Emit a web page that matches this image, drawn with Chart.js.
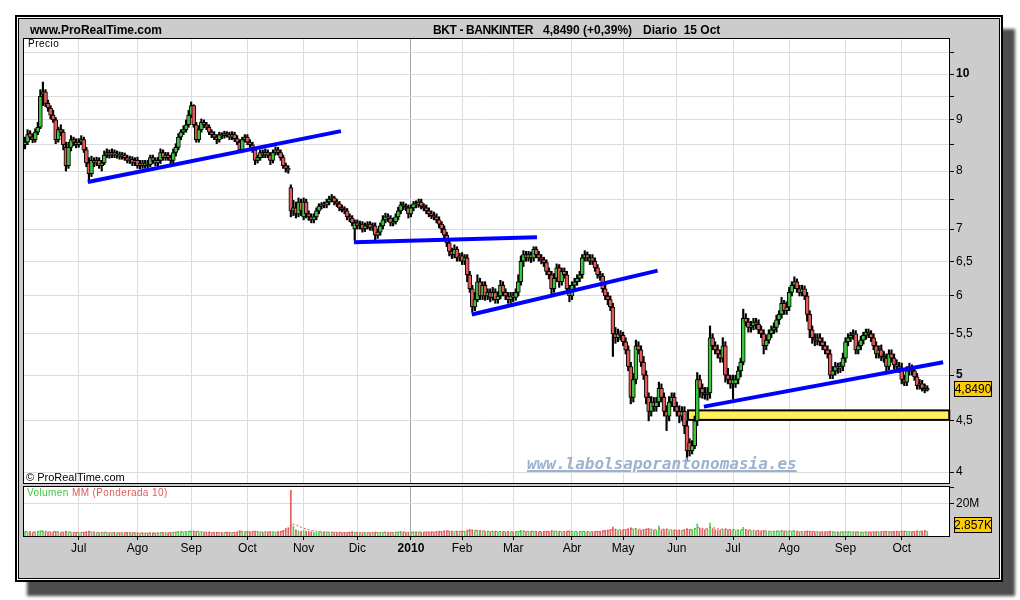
<!DOCTYPE html>
<html>
<head>
<meta charset="utf-8">
<script src="https://cdn.jsdelivr.net/npm/chart.js@4.4.0/dist/chart.umd.min.js"></script>
<style>
  body { margin: 0; background: #fff; width: 1020px; height: 600px; overflow: hidden; position: relative; font-family: 'Liberation Sans', Arial, sans-serif; }
  #frame { position: absolute; left: 15px; top: 15px; width: 988px; height: 567px; box-sizing: border-box; background: #cccccc; border: 2px solid #000;
           box-shadow: inset 0 0 0 1px #fff, inset 0 0 0 2px #000, 12px 14px 3px #4d4d4d; }
  canvas { position: absolute; left: 0; top: 0; width: 1020px; height: 600px; }
  .txt { position: absolute; white-space: pre; line-height: 14px; color: #000; }
</style>
</head>
<body>
<div id="frame"></div>
<canvas id="priceChart" width="1020" height="600"></canvas>
<canvas id="volChart" width="1020" height="600"></canvas>

<div class="txt" style="left:30px;top:23px;font-size:12px;font-weight:bold">www.ProRealTime.com</div>
<div class="txt" style="left:433px;top:23px;font-size:12px;font-weight:bold;letter-spacing:-0.4px">BKT - BANKINTER</div>
<div class="txt" style="left:543px;top:23px;font-size:12px;font-weight:bold">4,8490 (+0,39%)</div>
<div class="txt" style="left:643px;top:23px;font-size:12px;font-weight:bold">Diario  15 Oct</div>
<div class="txt" style="left:28px;top:37px;font-size:10px;letter-spacing:0.5px">Precio</div>
<div class="txt" style="left:26px;top:470px;font-size:11px">© ProRealTime.com</div>
<div class="txt" style="left:27px;top:486px;font-size:10px;letter-spacing:0.4px"><span style="color:#3fc43f">Volumen</span> <span style="color:#e05a5a">MM (Ponderada 10)</span></div>
<div class="txt" style="left:527px;top:455px;line-height:18px;font-family:'DejaVu Sans Mono',monospace;font-size:16px;font-weight:bold;font-style:oblique;color:#9cb2cf;text-decoration:underline;text-decoration-thickness:2px">www.labolsaporantonomasia.es</div>

<script>
// Daily OHLC, Bankinter (BKT), from early June 2009 to 15 Oct 2010
const opens = [
  8.5,8.55,8.72,8.65,8.6,8.75,8.85,9.55,9.6,9.35,
  9.25,9.1,9.0,8.6,8.8,8.75,8.45,8.1,8.45,8.6,
  8.55,8.5,8.55,8.6,8.4,8.15,7.95,8.2,8.15,8.2,
  8.1,8.15,8.3,8.35,8.3,8.35,8.3,8.32,8.28,8.3,
  8.25,8.2,8.22,8.15,8.2,8.1,8.15,8.1,8.15,8.12,
  8.25,8.2,8.15,8.2,8.35,8.25,8.3,8.25,8.2,8.35,
  8.45,8.65,8.75,8.8,8.9,9.1,9.3,8.9,8.6,8.8,
  8.95,8.9,8.85,8.75,8.7,8.65,8.6,8.7,8.68,8.72,
  8.7,8.65,8.7,8.62,8.55,8.4,8.6,8.65,8.55,8.5,
  8.4,8.2,8.25,8.35,8.3,8.35,8.3,8.2,8.35,8.4,
  8.35,8.25,8.1,8.05,7.7,7.3,7.35,7.25,7.45,7.2,
  7.45,7.25,7.2,7.15,7.2,7.3,7.38,7.42,7.4,7.45,
  7.5,7.52,7.45,7.42,7.35,7.32,7.3,7.2,7.18,7.0,
  7.1,7.05,7.08,7.0,7.05,7.08,7.02,7.05,6.9,6.95,
  7.05,7.15,7.2,7.18,7.1,7.12,7.2,7.3,7.4,7.38,
  7.35,7.25,7.35,7.42,7.4,7.45,7.38,7.35,7.3,7.25,
  7.22,7.2,7.15,7.08,7.0,6.9,6.78,6.65,6.6,6.68,
  6.55,6.58,6.5,6.55,6.3,6.1,5.85,5.95,6.2,6.0,
  6.15,6.0,6.05,5.98,6.05,5.95,6.0,6.15,6.05,6.0,
  5.95,6.0,5.98,6.05,6.2,6.5,6.6,6.55,6.6,6.55,
  6.68,6.6,6.55,6.52,6.48,6.35,6.3,6.1,6.25,6.4,
  6.2,6.35,6.3,6.1,6.0,6.15,6.2,6.25,6.3,6.55,
  6.6,6.5,6.55,6.5,6.4,6.3,6.28,6.1,6.0,5.95,
  5.85,5.5,5.45,5.5,5.48,5.4,5.3,5.1,4.75,4.95,
  5.35,5.3,5.15,5.0,4.75,4.6,4.7,4.65,4.7,4.85,
  4.75,4.6,4.55,4.7,4.75,4.65,4.6,4.55,4.6,4.45,
  4.28,4.2,4.25,4.5,4.95,4.85,4.8,4.78,4.8,5.45,
  5.35,5.3,5.25,5.2,5.35,5.0,4.95,4.9,4.9,4.95,
  5.05,5.15,5.7,5.65,5.58,5.6,5.65,5.62,5.55,5.5,
  5.35,5.42,5.5,5.55,5.58,5.68,5.75,5.9,5.8,5.85,
  6.05,6.15,6.2,6.1,6.05,6.1,6.0,5.75,5.55,5.45,
  5.42,5.45,5.4,5.35,5.3,5.25,5.0,5.05,5.1,5.08,
  5.1,5.2,5.4,5.45,5.48,5.5,5.3,5.35,5.42,5.48,
  5.52,5.5,5.45,5.35,5.25,5.3,5.22,5.2,5.1,5.25,
  5.2,5.12,5.1,5.08,4.95,4.92,5.05,5.08,5.05,4.98,
  4.88,4.9,4.85,4.83
];
const highs = [
  8.65,8.8,8.78,8.72,8.82,8.95,9.65,9.82,9.65,9.42,
  9.3,9.2,9.05,8.85,8.9,8.8,8.55,8.55,8.68,8.65,
  8.62,8.62,8.68,8.65,8.45,8.25,8.28,8.25,8.26,8.25,
  8.2,8.38,8.42,8.4,8.42,8.4,8.38,8.36,8.35,8.34,
  8.3,8.28,8.27,8.25,8.26,8.2,8.2,8.2,8.2,8.3,
  8.3,8.25,8.26,8.42,8.4,8.35,8.35,8.3,8.42,8.52,
  8.72,8.8,8.88,9.0,9.2,9.38,9.32,8.95,8.88,9.02,
  9.0,8.95,8.9,8.8,8.76,8.7,8.75,8.74,8.77,8.76,
  8.75,8.76,8.75,8.68,8.6,8.65,8.7,8.7,8.6,8.55,
  8.45,8.3,8.4,8.4,8.42,8.4,8.35,8.4,8.46,8.45,
  8.4,8.3,8.15,8.1,7.75,7.48,7.45,7.52,7.5,7.52,
  7.5,7.3,7.25,7.25,7.35,7.42,7.44,7.45,7.5,7.55,
  7.58,7.55,7.5,7.46,7.4,7.37,7.34,7.25,7.22,7.15,
  7.15,7.13,7.12,7.1,7.12,7.12,7.1,7.1,7.0,7.1,
  7.22,7.26,7.25,7.22,7.18,7.25,7.36,7.45,7.45,7.42,
  7.4,7.4,7.46,7.47,7.5,7.5,7.42,7.4,7.35,7.3,
  7.28,7.25,7.2,7.12,7.05,6.95,6.82,6.7,6.75,6.72,
  6.62,6.63,6.6,6.6,6.35,6.15,6.05,6.3,6.25,6.2,
  6.2,6.1,6.1,6.12,6.1,6.06,6.22,6.2,6.1,6.05,
  6.05,6.05,6.1,6.3,6.58,6.66,6.65,6.65,6.64,6.72,
  6.72,6.65,6.6,6.56,6.52,6.4,6.35,6.32,6.46,6.45,
  6.4,6.4,6.35,6.15,6.2,6.25,6.3,6.35,6.6,6.66,
  6.64,6.6,6.6,6.55,6.45,6.35,6.32,6.15,6.05,6.0,
  5.9,5.58,5.56,5.54,5.52,5.45,5.35,5.15,5.02,5.42,
  5.4,5.35,5.22,5.05,4.8,4.76,4.75,4.75,4.92,4.9,
  4.8,4.66,4.76,4.8,4.8,4.7,4.66,4.65,4.65,4.5,
  4.32,4.3,4.55,5.03,5.0,4.9,4.86,4.86,5.6,5.5,
  5.4,5.36,5.3,5.45,5.4,5.08,5.0,5.0,5.0,5.1,
  5.2,5.82,5.76,5.7,5.66,5.7,5.7,5.68,5.6,5.55,
  5.48,5.55,5.6,5.64,5.74,5.8,5.98,5.94,5.92,6.12,
  6.2,6.27,6.24,6.15,6.15,6.14,6.05,5.8,5.6,5.5,
  5.5,5.5,5.45,5.4,5.35,5.3,5.1,5.15,5.14,5.15,
  5.26,5.45,5.5,5.52,5.55,5.54,5.4,5.47,5.52,5.56,
  5.56,5.54,5.5,5.4,5.35,5.36,5.28,5.25,5.3,5.3,
  5.25,5.18,5.15,5.14,5.0,5.1,5.14,5.12,5.1,5.02,
  4.95,4.94,4.9,4.88
];
const lows = [
  8.42,8.5,8.6,8.54,8.55,8.7,8.82,9.3,9.28,9.18,
  9.02,8.95,8.52,8.55,8.68,8.4,8.0,8.05,8.38,8.48,
  8.44,8.45,8.5,8.35,8.08,7.8,7.9,8.08,8.1,8.05,
  8.0,8.12,8.25,8.24,8.25,8.25,8.24,8.22,8.22,8.2,
  8.15,8.14,8.1,8.1,8.05,8.04,8.05,8.05,8.06,8.08,
  8.14,8.1,8.1,8.14,8.2,8.2,8.2,8.14,8.15,8.28,
  8.4,8.6,8.7,8.75,8.85,9.05,8.85,8.55,8.55,8.75,
  8.84,8.8,8.7,8.64,8.6,8.52,8.55,8.62,8.63,8.65,
  8.6,8.6,8.56,8.5,8.35,8.35,8.55,8.5,8.45,8.35,
  8.12,8.15,8.2,8.25,8.25,8.25,8.12,8.15,8.3,8.3,
  8.2,8.05,7.98,7.96,7.2,7.22,7.18,7.2,7.22,7.15,
  7.18,7.14,7.1,7.1,7.15,7.25,7.33,7.35,7.35,7.4,
  7.45,7.4,7.37,7.3,7.28,7.25,7.15,7.12,7.05,6.82,
  7.0,7.0,6.95,6.96,7.0,6.98,6.97,6.82,6.85,6.9,
  7.0,7.1,7.12,7.05,7.05,7.08,7.15,7.25,7.32,7.3,
  7.18,7.2,7.3,7.35,7.36,7.33,7.3,7.25,7.2,7.17,
  7.15,7.1,7.02,6.94,6.82,6.72,6.58,6.54,6.55,6.5,
  6.5,6.45,6.45,6.2,6.05,5.78,5.8,5.92,5.95,5.95,
  5.94,5.95,5.92,5.94,5.9,5.9,5.96,6.0,5.95,5.9,
  5.9,5.92,5.94,6.0,6.15,6.42,6.5,6.5,6.48,6.5,
  6.55,6.5,6.46,6.42,6.3,6.24,6.0,6.05,6.2,6.12,
  6.15,6.25,6.05,5.92,5.95,6.1,6.15,6.2,6.25,6.5,
  6.5,6.45,6.45,6.35,6.25,6.22,6.05,5.95,5.88,5.8,
  5.22,5.38,5.4,5.42,5.35,5.25,5.05,4.68,4.7,4.9,
  5.25,5.1,4.95,4.68,4.5,4.55,4.6,4.6,4.65,4.7,
  4.55,4.4,4.5,4.65,4.6,4.55,4.48,4.5,4.37,4.1,
  4.15,4.17,4.22,4.45,4.75,4.74,4.73,4.72,4.74,5.3,
  5.25,5.2,5.15,5.15,4.92,4.9,4.85,4.73,4.86,4.9,
  4.98,5.12,5.6,5.52,5.52,5.55,5.56,5.5,5.45,5.25,
  5.3,5.38,5.45,5.5,5.52,5.62,5.7,5.75,5.75,5.8,
  6.0,6.1,6.05,6.0,6.0,5.95,5.66,5.45,5.38,5.35,
  5.36,5.35,5.3,5.25,5.2,4.96,4.96,5.0,5.02,5.03,
  5.05,5.15,5.35,5.4,5.43,5.25,5.25,5.3,5.37,5.43,
  5.45,5.4,5.3,5.2,5.2,5.17,5.15,5.05,5.06,5.15,
  5.07,5.05,5.03,4.9,4.88,4.88,5.0,5.0,4.94,4.84,
  4.84,4.82,4.8,4.82
];
const closes = [
  8.55,8.7,8.65,8.6,8.75,8.85,9.5,9.6,9.35,9.25,
  9.1,9.0,8.6,8.8,8.75,8.5,8.1,8.45,8.6,8.55,
  8.5,8.55,8.6,8.4,8.15,7.95,8.2,8.15,8.2,8.1,
  8.15,8.3,8.35,8.3,8.35,8.3,8.32,8.28,8.3,8.25,
  8.2,8.22,8.15,8.2,8.1,8.15,8.1,8.15,8.12,8.25,
  8.2,8.15,8.2,8.35,8.25,8.3,8.25,8.2,8.35,8.45,
  8.65,8.75,8.8,8.9,9.1,9.3,8.9,8.6,8.8,8.95,
  8.9,8.85,8.75,8.7,8.65,8.6,8.7,8.68,8.72,8.7,
  8.65,8.7,8.62,8.55,8.4,8.6,8.65,8.55,8.5,8.4,
  8.2,8.25,8.35,8.3,8.35,8.3,8.2,8.35,8.4,8.35,
  8.25,8.1,8.05,8.02,7.3,7.35,7.25,7.45,7.3,7.45,
  7.25,7.2,7.15,7.2,7.3,7.38,7.4,7.4,7.45,7.5,
  7.52,7.45,7.42,7.35,7.32,7.3,7.2,7.18,7.1,7.1,
  7.05,7.08,7.0,7.05,7.08,7.02,7.05,6.9,6.95,7.05,
  7.15,7.2,7.18,7.1,7.12,7.2,7.3,7.4,7.38,7.35,
  7.25,7.35,7.42,7.4,7.45,7.38,7.35,7.3,7.25,7.22,
  7.2,7.15,7.08,7.0,6.9,6.78,6.65,6.6,6.68,6.55,
  6.58,6.5,6.55,6.3,6.1,5.85,5.95,6.2,6.0,6.15,
  6.0,6.05,5.98,6.05,5.95,6.0,6.15,6.05,6.0,5.95,
  6.0,5.98,6.05,6.2,6.5,6.6,6.55,6.6,6.55,6.68,
  6.6,6.55,6.52,6.48,6.35,6.3,6.1,6.25,6.4,6.2,
  6.35,6.3,6.1,6.0,6.15,6.2,6.25,6.3,6.55,6.6,
  6.55,6.55,6.5,6.4,6.3,6.28,6.1,6.0,5.95,5.85,
  5.5,5.45,5.5,5.48,5.4,5.3,5.1,4.75,4.95,5.35,
  5.3,5.15,5.0,4.75,4.6,4.7,4.65,4.7,4.85,4.75,
  4.6,4.55,4.7,4.75,4.65,4.6,4.55,4.6,4.45,4.2,
  4.2,4.25,4.5,4.95,4.85,4.8,4.78,4.8,5.45,5.35,
  5.3,5.25,5.2,5.35,5.0,4.95,4.9,4.95,4.95,5.05,
  5.15,5.7,5.65,5.58,5.6,5.65,5.62,5.55,5.5,5.35,
  5.42,5.5,5.55,5.58,5.68,5.75,5.9,5.8,5.85,6.05,
  6.15,6.2,6.1,6.05,6.1,6.0,5.75,5.55,5.45,5.42,
  5.45,5.4,5.35,5.3,5.25,5.0,5.05,5.1,5.08,5.1,
  5.2,5.4,5.45,5.48,5.5,5.3,5.35,5.42,5.48,5.52,
  5.5,5.45,5.35,5.25,5.3,5.22,5.2,5.1,5.25,5.2,
  5.12,5.1,5.08,4.95,4.92,5.05,5.08,5.05,4.98,4.88,
  4.9,4.85,4.83,4.849
];
// volume in millions of shares, and its weighted 10-day average as drawn
const volumes = [
  2.8,2.4,2.6,2.2,2.5,3.0,3.4,3.2,2.6,2.4,
  2.2,2.5,2.9,2.3,2.1,2.4,3.0,2.6,2.2,2.0,
  2.3,2.1,2.0,2.4,2.6,3.1,2.5,2.2,2.0,1.9,
  2.2,2.4,2.1,1.8,2.0,2.2,1.9,2.1,1.8,2.0,
  2.3,2.0,1.9,2.2,1.8,1.7,2.0,1.9,1.8,2.1,
  1.9,1.8,2.0,2.3,2.1,1.9,2.0,2.2,2.4,2.6,
  2.9,2.7,2.5,2.8,3.0,3.2,3.0,2.8,2.5,2.4,
  2.3,2.2,2.4,2.1,2.0,2.3,2.2,2.0,2.1,2.4,
  2.2,2.0,2.3,2.6,3.4,2.8,2.4,2.9,2.5,2.7,
  3.0,2.6,2.4,2.3,2.6,2.4,2.8,2.5,2.3,2.6,
  3.0,3.6,4.8,5.2,28.5,6.2,3.8,3.2,2.9,3.5,
  3.0,2.8,2.6,2.4,2.2,2.6,2.4,2.3,2.5,2.2,
  2.4,2.2,2.1,2.3,2.0,2.2,2.1,2.4,2.6,2.3,
  2.2,2.0,1.9,2.1,2.2,2.0,2.3,2.5,2.2,2.0,
  2.3,2.6,2.2,2.1,2.0,2.4,2.6,2.9,2.4,2.2,
  2.1,2.3,2.6,2.4,2.5,2.2,2.3,2.6,2.4,2.7,
  2.5,2.8,3.0,2.7,3.2,3.4,3.0,2.8,2.6,3.1,
  2.8,3.0,2.7,3.6,4.2,3.8,3.4,3.6,3.0,3.2,
  2.8,3.0,2.7,2.9,3.1,2.6,3.0,2.8,2.5,2.7,
  2.6,2.4,2.8,3.0,3.5,3.2,2.8,2.6,2.9,3.1,
  2.7,2.5,2.6,2.8,3.0,2.7,3.4,3.0,2.8,2.9,
  2.6,2.5,3.0,3.2,2.8,2.6,2.5,2.7,3.0,2.8,
  2.6,2.5,2.7,2.8,3.0,2.9,3.4,3.6,3.8,4.0,
  5.6,4.2,3.6,3.4,3.8,4.0,4.6,5.2,4.4,4.8,
  3.8,3.6,4.0,4.4,4.8,4.0,3.6,3.4,6.2,3.8,
  4.0,4.4,3.6,3.4,3.8,3.5,3.6,3.4,4.0,4.6,
  4.2,3.8,4.8,7.5,4.8,4.2,4.0,4.4,8.0,4.6,
  4.0,3.6,3.8,4.2,4.4,3.8,3.6,4.0,3.4,3.6,
  3.8,5.4,4.0,3.6,3.4,3.2,3.0,3.3,2.9,3.4,
  3.0,2.8,2.7,2.9,3.2,3.0,3.6,3.1,2.8,3.2,
  3.0,3.3,2.8,2.6,2.5,2.7,3.2,3.0,2.8,2.6,
  2.5,2.4,2.6,2.5,2.7,3.0,2.6,2.4,2.3,2.5,
  2.6,2.8,2.7,2.5,2.4,2.6,2.5,2.3,2.4,2.6,
  2.5,2.4,2.6,2.8,2.5,2.6,2.8,3.0,2.6,2.7,
  2.8,3.0,2.6,3.2,3.0,2.7,2.5,2.6,2.8,3.2,
  2.9,3.0,3.4,2.857
];
const volumeAvg = [
  2.8,2.6,2.6,2.5,2.5,2.6,2.9,3.0,2.9,2.8,
  2.6,2.6,2.7,2.6,2.4,2.4,2.6,2.6,2.5,2.3,
  2.3,2.2,2.2,2.2,2.4,2.6,2.6,2.5,2.3,2.2,
  2.2,2.3,2.2,2.1,2.1,2.1,2.0,2.0,2.0,2.0,
  2.1,2.1,2.0,2.1,2.0,1.9,1.9,1.9,1.9,1.9,
  1.9,1.9,1.9,2.0,2.1,2.0,2.0,2.1,2.2,2.3,
  2.5,2.6,2.6,2.7,2.8,2.9,3.0,2.9,2.8,2.7,
  2.6,2.4,2.4,2.3,2.2,2.2,2.2,2.1,2.1,2.2,
  2.2,2.2,2.2,2.3,2.6,2.7,2.6,2.7,2.6,2.7,
  2.8,2.7,2.6,2.5,2.5,2.5,2.6,2.6,2.5,2.5,
  2.6,2.9,3.4,3.9,7.4,7.4,6.9,6.2,5.5,4.9,
  4.3,3.9,3.5,3.2,2.9,2.8,2.6,2.5,2.5,2.4,
  2.4,2.3,2.3,2.3,2.2,2.2,2.2,2.2,2.3,2.3,
  2.2,2.2,2.1,2.1,2.1,2.1,2.1,2.2,2.2,2.2,
  2.2,2.3,2.3,2.2,2.2,2.2,2.3,2.5,2.5,2.4,
  2.3,2.3,2.4,2.4,2.4,2.4,2.4,2.4,2.4,2.5,
  2.5,2.6,2.7,2.7,2.9,3.0,3.0,3.0,2.9,2.9,
  2.9,2.9,2.8,3.0,3.4,3.6,3.5,3.5,3.3,3.3,
  3.1,3.0,2.9,2.9,2.9,2.8,2.8,2.8,2.7,2.7,
  2.6,2.6,2.6,2.7,2.9,3.0,3.0,2.9,2.9,2.9,
  2.9,2.8,2.7,2.7,2.8,2.8,3.0,3.0,2.9,2.9,
  2.8,2.7,2.8,2.9,2.9,2.8,2.7,2.7,2.8,2.8,
  2.7,2.7,2.6,2.7,2.8,2.8,3.0,3.2,3.4,3.6,
  4.1,4.2,4.0,3.9,3.8,3.9,4.1,4.4,4.4,4.5,
  4.3,4.1,4.0,4.1,4.3,4.2,4.0,3.8,4.5,4.3,
  4.2,4.2,4.0,3.8,3.8,3.7,3.6,3.5,3.7,3.9,
  4.0,3.9,4.2,5.2,5.1,4.8,4.6,4.5,5.5,5.2,
  4.9,4.5,4.3,4.3,4.3,4.2,4.0,4.0,3.8,3.7,
  3.7,4.2,4.1,3.9,3.7,3.6,3.4,3.4,3.2,3.3,
  3.2,3.1,2.9,2.9,3.0,3.0,3.2,3.1,3.0,3.1,
  3.0,3.1,3.0,2.9,2.7,2.7,2.9,2.9,2.9,2.8,
  2.7,2.6,2.6,2.6,2.6,2.7,2.6,2.6,2.5,2.5,
  2.5,2.6,2.6,2.6,2.5,2.5,2.5,2.4,2.4,2.5,
  2.5,2.5,2.5,2.6,2.6,2.6,2.7,2.8,2.7,2.7,
  2.7,2.8,2.7,2.9,2.9,2.9,2.8,2.7,2.7,2.9,
  2.9,2.9,3.1,3.0
];

// first trading day of each month (index into the daily arrays) and its label
const monthStarts = [21, 44, 65, 87, 109, 130, 151, 171, 191, 214, 234, 255, 277, 299, 321, 343];
const monthLabels = ['Jul', 'Ago', 'Sep', 'Oct', 'Nov', 'Dic', '2010', 'Feb', 'Mar', 'Abr', 'May', 'Jun', 'Jul', 'Ago', 'Sep', 'Oct'];

const priceTicks = [4, 4.5, 5, 5.5, 6, 6.5, 7, 7.5, 8, 8.5, 9, 9.5, 10, 10.5];
const priceTickLabels = ['4', '4,5', '5', '5,5', '6', '6,5', '7', '', '8', '', '9', '', '10', ''];
const boldPriceTicks = [5, 10];
const volumeTicks = [20, 30];
const volumeTickLabels = ['20M', ''];

// drawn trend lines: [dayFrom, priceFrom, dayTo, priceTo]
const trendLines = [
  [24.6, 7.80, 123.6, 8.77],
  [128.7, 6.79, 200.3, 6.87],
  [174.8, 5.75, 247.5, 6.36],
  [265.6, 4.65, 359.2, 5.15]
];
// support band: [dayFrom, dayTo, priceLow, priceHigh]
const supportZone = [259.4, 361.6, 4.51, 4.61];

const upColor = '#3cc43c';
const downColor = '#e05a5a';
const fontFamily = "'Liberation Sans', Arial, sans-serif";
const xMin = -0.4, xMax = 361.5;

Chart.defaults.font.family = fontFamily;
Chart.defaults.font.size = 12;
Chart.defaults.color = '#000';

const days = closes.map((c, i) => i);
const candleColors = closes.map((c, i) => c >= opens[i] ? upColor : downColor);
const year2010 = monthStarts[monthLabels.indexOf('2010')];

function xGridColor(ctx) {
  return ctx.tick && ctx.tick.value === year2010 ? '#a6a6a6' : '#dcdcdc';
}

// white plot area with a thin black frame
const panel = {
  id: 'panel',
  beforeDraw(chart) {
    const { ctx, chartArea: a } = chart;
    ctx.save();
    ctx.fillStyle = '#fff';
    ctx.fillRect(a.left, a.top, a.width, a.height);
    ctx.restore();
  },
  afterDraw(chart) {
    const { ctx, chartArea: a } = chart;
    ctx.save();
    ctx.strokeStyle = '#000';
    ctx.lineWidth = 1;
    ctx.strokeRect(a.left - 0.5, a.top - 0.5, a.width + 1, a.height + 1);
    ctx.restore();
  }
};

const zone = {
  id: 'zone',
  beforeDatasetsDraw(chart) {
    const { ctx, scales: { x, y } } = chart;
    const x1 = x.getPixelForValue(supportZone[0]);
    const x2 = x.getPixelForValue(supportZone[1]);
    const y1 = y.getPixelForValue(supportZone[3]);
    const y2 = y.getPixelForValue(supportZone[2]);
    ctx.save();
    ctx.fillStyle = '#fff05c';
    ctx.fillRect(x1, y1, x2 - x1, y2 - y1);
    ctx.strokeStyle = '#000';
    ctx.lineWidth = 2;
    ctx.strokeRect(x1, y1, x2 - x1, y2 - y1);
    ctx.restore();
  }
};

function valueBox(ctx, left, cy, text) {
  ctx.save();
  ctx.fillStyle = '#ffcc00';
  ctx.fillRect(left + 0.5, Math.round(cy) - 7.5, 37, 15);
  ctx.strokeStyle = '#000';
  ctx.lineWidth = 1;
  ctx.strokeRect(left + 0.5, Math.round(cy) - 7.5, 37, 15);
  ctx.fillStyle = '#000';
  ctx.font = '12px ' + fontFamily;
  ctx.textBaseline = 'middle';
  ctx.textAlign = 'center';
  ctx.fillText(text, left + 19, Math.round(cy) + 0.5);
  ctx.restore();
}

const lastPriceBox = {
  id: 'lastPriceBox',
  afterDraw(chart) {
    const last = closes[closes.length - 1];
    const y = chart.scales.y.getPixelForValue(last);
    valueBox(chart.ctx, chart.chartArea.right + 5, y + 1, last.toFixed(4).replace('.', ','));
  }
};

const lastVolumeBox = {
  id: 'lastVolumeBox',
  afterDraw(chart) {
    const last = volumes[volumes.length - 1];
    const a = chart.chartArea;
    const y = Math.min(chart.scales.y.getPixelForValue(last), a.bottom - 11);
    valueBox(chart.ctx, a.right + 5, y, last.toFixed(3) + 'K');
  }
};

// price panel
new Chart(document.getElementById('priceChart'), {
  type: 'bar',
  data: {
    datasets: [
      ...trendLines.map(t => ({
        type: 'line',
        data: [{ x: t[0], y: t[1] }, { x: t[2], y: t[3] }],
        borderColor: '#0000ff',
        borderWidth: 4,
        pointRadius: 0,
        order: 0
      })),
      {
        label: 'Cuerpo',
        data: days.map(i => ({ x: i, y: [opens[i], closes[i]] })),
        backgroundColor: candleColors,
        borderColor: '#000',
        borderWidth: 1,
        borderSkipped: false,
        barThickness: 4,
        grouped: false,
        order: 1
      },
      {
        label: 'Mecha',
        data: days.map(i => ({ x: i, y: [lows[i], highs[i]] })),
        backgroundColor: '#000',
        barThickness: 1.5,
        grouped: false,
        order: 2
      }
    ]
  },
  options: {
    responsive: false,
    animation: false,
    events: [],
    layout: { padding: { left: 24, top: 39, right: 21, bottom: 117 } },
    plugins: { legend: { display: false }, tooltip: { enabled: false } },
    scales: {
      x: {
        type: 'linear',
        offset: false,
        min: xMin,
        max: xMax,
        afterBuildTicks: s => { s.ticks = monthStarts.map(v => ({ value: v })); },
        afterFit: s => { s.height = 0; },
        ticks: { display: false },
        grid: { color: xGridColor, drawTicks: false, offset: false },
        border: { display: false }
      },
      y: {
        type: 'logarithmic',
        position: 'right',
        min: 3.912,
        max: 10.844,
        afterBuildTicks: s => { s.ticks = priceTicks.map(v => ({ value: v })); },
        afterFit: s => { s.width = 50; },
        ticks: {
          autoSkip: false,
          padding: 2,
          color: '#000',
          callback: v => priceTickLabels[priceTicks.indexOf(v)],
          font: ctx => ({
            family: fontFamily,
            size: 12,
            weight: ctx.tick && boldPriceTicks.includes(ctx.tick.value) ? 'bold' : 'normal'
          })
        },
        grid: { color: '#dcdcdc', tickColor: '#000', tickLength: 5 },
        border: { display: true, color: '#000' }
      }
    }
  },
  plugins: [panel, zone, lastPriceBox]
});

// volume panel
new Chart(document.getElementById('volChart'), {
  type: 'bar',
  data: {
    datasets: [
      {
        type: 'line',
        label: 'MM (Ponderada 10)',
        data: days.map(i => ({ x: i, y: volumeAvg[i] })),
        borderColor: '#e05050',
        borderWidth: 1,
        borderDash: [2, 2],
        pointRadius: 0,
        order: 0
      },
      {
        label: 'Volumen',
        data: days.map(i => ({ x: i, y: volumes[i] })),
        backgroundColor: candleColors.map(c => c === upColor ? '#4fd34f' : '#e06060'),
        barThickness: 1,
        grouped: false,
        order: 1
      }
    ]
  },
  options: {
    responsive: false,
    animation: false,
    events: [],
    layout: { padding: { left: 24, top: 487, right: 21, bottom: 34 } },
    plugins: { legend: { display: false }, tooltip: { enabled: false } },
    scales: {
      x: {
        type: 'linear',
        offset: false,
        min: xMin,
        max: xMax,
        afterBuildTicks: s => { s.ticks = monthStarts.map(v => ({ value: v })); },
        afterFit: s => { s.height = 30; },
        ticks: {
          autoSkip: false,
          maxRotation: 0,
          padding: 1,
          color: '#000',
          callback: v => monthLabels[monthStarts.indexOf(v)],
          font: ctx => ({
            family: fontFamily,
            size: 12,
            weight: ctx.tick && ctx.tick.value === year2010 ? 'bold' : 'normal'
          })
        },
        grid: { color: xGridColor, tickColor: '#000', tickLength: 4, offset: false },
        border: { display: true, color: '#000' }
      },
      y: {
        position: 'right',
        min: 0,
        max: 30.6,
        afterBuildTicks: s => { s.ticks = volumeTicks.map(v => ({ value: v })); },
        afterFit: s => { s.width = 50; },
        ticks: {
          padding: 2,
          color: '#000',
          callback: v => volumeTickLabels[volumeTicks.indexOf(v)]
        },
        grid: {
          color: ctx => ctx.tick && ctx.tick.value === 20 ? '#dcdcdc' : 'rgba(0,0,0,0)',
          tickColor: '#000',
          tickLength: 5
        },
        border: { display: true, color: '#000' }
      }
    }
  },
  plugins: [panel, lastVolumeBox]
});
</script>
</body>
</html>
